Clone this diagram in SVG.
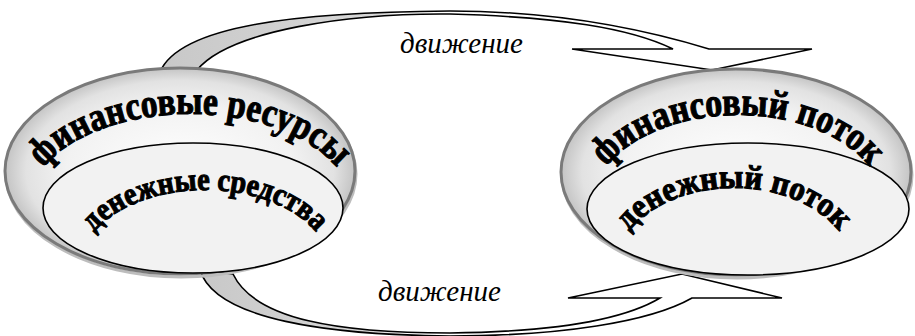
<svg xmlns="http://www.w3.org/2000/svg" width="915" height="336" viewBox="0 0 915 336">
<defs>
<radialGradient id="ring" cx="50%" cy="50%" r="50%">
<stop offset="0" stop-color="#ffffff"/>
<stop offset="0.65" stop-color="#f2f2f2"/>
<stop offset="0.88" stop-color="#e2e2e2"/>
<stop offset="1" stop-color="#c4c4c4"/>
</radialGradient>
<linearGradient id="bandTop" gradientUnits="userSpaceOnUse" x1="160" y1="0" x2="720" y2="0">
<stop offset="0" stop-color="#c8c8c8"/>
<stop offset="0.40" stop-color="#d8d8d8"/>
<stop offset="0.43" stop-color="#ffffff"/>
<stop offset="1" stop-color="#ffffff"/>
</linearGradient>
<linearGradient id="bandBot" gradientUnits="userSpaceOnUse" x1="200" y1="0" x2="700" y2="0">
<stop offset="0" stop-color="#c8c8c8"/>
<stop offset="0.36" stop-color="#d8d8d8"/>
<stop offset="0.40" stop-color="#ffffff"/>
<stop offset="1" stop-color="#ffffff"/>
</linearGradient>
<path id="pLO" d="M30,204 A160,90 0 0 1 350,204"/>
<path id="pLI" d="M80,268 A125,78 0 0 1 330,268"/>
<path id="pRO" d="M590,210 A148,95 0 0 1 886,210"/>
<path id="pRI" d="M614,272 A120,84 0 0 1 854,272"/>
</defs>
<style>
.band{stroke:#000;stroke-width:1.6;stroke-linejoin:miter}
.outer{fill:url(#ring);stroke:#7a7a7a;stroke-width:3}
.shadow{fill:none;stroke:#bdbdbd;stroke-width:3}
.inner{fill:#f2f2f2;stroke:#000;stroke-width:1.6}
.arch{font-family:"Liberation Serif",serif;font-weight:bold;fill:#000;stroke:#000;stroke-width:1.1}
.lbl{font-family:"Liberation Serif",serif;font-style:italic;font-size:29px;fill:#000}
</style>
<g id="connectors">
<path class="band" fill="url(#bandTop)" d="M160,72 C180,25 300,12 450,11 C550,11 640,28 709,49 L812,49 L712,70 L572,49 L673,49 C630,28 560,17 450,14 C350,13 230,30 197,70 Z"/>
<path class="band" fill="url(#bandBot)" d="M200,270 C215,320 330,335 450,336 C560,336 650,322 692,298 L782,298 L682,274 L568,298 L660,298 C620,322 540,332 450,333 C340,333 255,320 233,274 Z"/>
<text class="lbl" x="400" y="53">движение</text>
<text class="lbl" x="378" y="301">движение</text>
</g>
<g id="node-left">
<ellipse class="shadow" cx="181" cy="174" rx="175" ry="103"/>
<ellipse class="outer" cx="180" cy="171" rx="175" ry="103"/>
<ellipse class="inner" cx="193" cy="208" rx="150" ry="65"/>
<text class="arch" font-size="40"><textPath href="#pLO" startOffset="50%" text-anchor="middle" textLength="322" lengthAdjust="spacingAndGlyphs">финансовые ресурсы</textPath></text>
<text class="arch" font-size="32"><textPath href="#pLI" startOffset="50%" text-anchor="middle" textLength="245" lengthAdjust="spacingAndGlyphs">денежные средства</textPath></text>
</g>
<g id="node-right">
<ellipse class="shadow" cx="737" cy="175" rx="175" ry="103"/>
<ellipse class="outer" cx="736" cy="172" rx="175" ry="103"/>
<ellipse class="inner" cx="748" cy="209" rx="161" ry="66"/>
<text class="arch" font-size="40"><textPath href="#pRO" startOffset="50%" text-anchor="middle" textLength="292" lengthAdjust="spacingAndGlyphs">финансовый поток</textPath></text>
<text class="arch" font-size="34"><textPath href="#pRI" startOffset="50%" text-anchor="middle" textLength="235" lengthAdjust="spacingAndGlyphs">денежный поток</textPath></text>
</g>
</svg>
